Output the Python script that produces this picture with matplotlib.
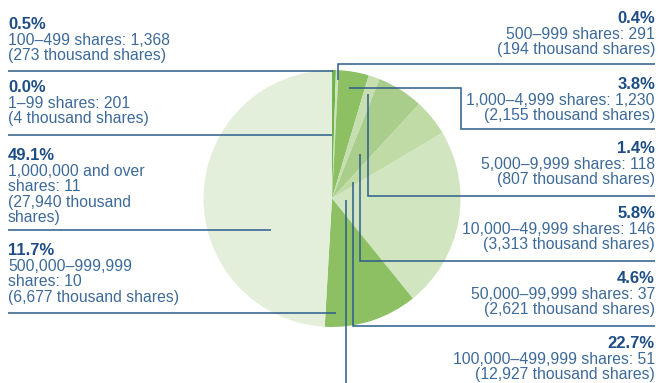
import matplotlib
matplotlib.use("Agg")
import matplotlib.pyplot as plt

# ---- data ----
ranges = ["1–99", "100–499", "500–999", "1,000–4,999", "5,000–9,999",
          "10,000–49,999", "50,000–99,999", "100,000–499,999",
          "500,000–999,999", "1,000,000 and over"]
percent = [0.0, 0.5, 0.4, 3.8, 1.4, 5.8, 4.6, 22.7, 11.7, 49.1]
holders = [201, 1368, 291, 1230, 118, 146, 37, 51, 10, 11]
thousand_shares = [4, 273, 194, 2155, 807, 3313, 2621, 12927, 6677, 27940]

# ---- styles ----
W, H = 659, 383
slice_colors = ['#6db34a', '#6db34a', '#cfe4bd', '#8cc063', '#c6deb0',
                '#a9cd8a', '#c0dba6', '#d1e5c0', '#8cc063', '#e3eedb']
BOLD_C = '#1d4d84'
TEXT_C = '#3d6a99'
LINE_C = '#2c5c8c'
FONT = 'Liberation Sans'
FS = 11.3
FS_B = 12
LSP = 15.6

fig = plt.figure(figsize=(W / 100, H / 100), dpi=100)
ax = fig.add_axes([0, 0, 1, 1])

def Y(y):
    return H - y

cx, cy, r = 332, 198.5, 128.5
ax.pie(thousand_shares, colors=slice_colors, startangle=90, counterclock=False,
       center=(cx, Y(cy)), radius=r, wedgeprops=dict(linewidth=0))
ax.set_xlim(0, W)
ax.set_ylim(0, H)
ax.set_aspect('auto')
ax.axis('off')

# label text lines per category
def lines_for(i, wrap):
    body = [f"{ranges[i]} shares: {holders[i]:,}",
            f"({thousand_shares[i]:,} thousand shares)"]
    if wrap == 'a':
        body = [f"{ranges[i]}", f"shares: {holders[i]:,}",
                f"({thousand_shares[i]:,} thousand", "shares)"]
    elif wrap == 'b':
        body = [f"{ranges[i]}", f"shares: {holders[i]:,}",
                f"({thousand_shares[i]:,} thousand shares)"]
    return [f"{percent[i]:.1f}%"] + body

# (index, x, first baseline, align, wrap)
label_pos = [
    (1, 8, 29, 'left', None),
    (0, 8, 92, 'left', None),
    (9, 8, 160, 'left', 'a'),
    (8, 8, 255, 'left', 'b'),
    (2, 655, 23, 'right', None),
    (3, 655, 89, 'right', None),
    (4, 655, 153, 'right', None),
    (5, 655, 218, 'right', None),
    (6, 655, 283, 'right', None),
    (7, 655, 348, 'right', None),
]
for idx, x, y0, ha, wrap in label_pos:
    for k, s in enumerate(lines_for(idx, wrap)):
        ax.text(x, Y(y0 + k * LSP), s, ha=ha, va='baseline',
                fontsize=FS_B if k == 0 else FS, family=FONT,
                color=BOLD_C if k == 0 else TEXT_C,
                fontweight='bold' if k == 0 else 'normal')

# leader lines (pixel coordinates)
leaders = [
    [(8, 135), (332, 135)],
    [(8, 71), (333, 71)],
    [(338, 80), (338, 64), (655, 64)],
    [(349, 88), (461, 88), (461, 129), (655, 129)],
    [(368, 94), (368, 196), (655, 196)],
    [(360, 154), (360, 261), (655, 261)],
    [(353, 182), (353, 326), (655, 326)],
    [(346, 200), (346, 383)],
    [(8, 313), (336, 313)],
    [(8, 230), (271, 230)],
]
for pts in leaders:
    xs = [p[0] for p in pts]
    ys = [Y(p[1]) for p in pts]
    ax.plot(xs, ys, color=LINE_C, lw=1.1, solid_capstyle='butt',
            solid_joinstyle='miter')

fig.savefig('out.png', dpi=100)
